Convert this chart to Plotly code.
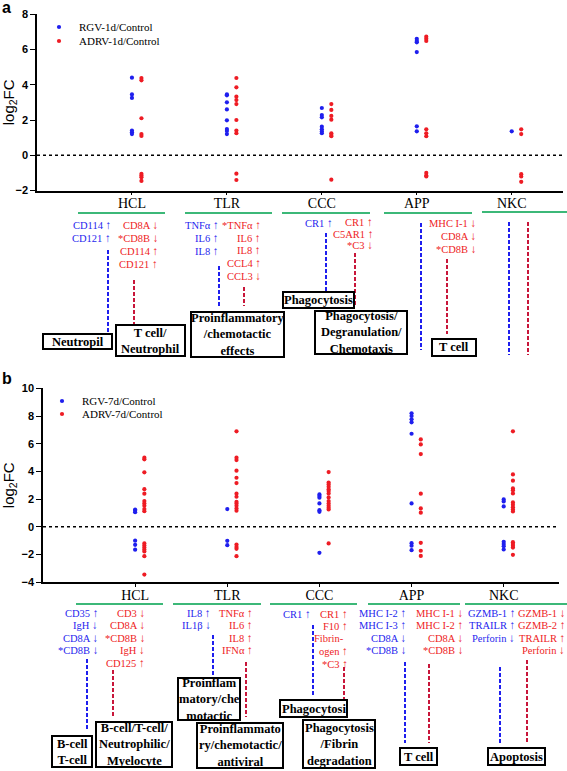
import plotly.graph_objects as go

W, H = 567, 771

categories = ["HCL", "TLR", "CCC", "APP", "NKC"]

# Panel a values (log2FC), one list per category
a_rgv = [[4.4, 3.45, 3.25, 1.4, 1.3, 1.2],
         [3.45, 3.4, 3.0, 2.6, 1.98, 1.49, 1.38, 1.2],
         [2.68, 2.28, 2.15, 1.62, 1.47, 1.35, 1.25],
         [6.6, 6.48, 6.4, 5.85, 1.64, 1.36],
         [1.36]]
a_adrv = [[4.38, 4.25, 2.1, 1.2, 1.1, -1.05, -1.15, -1.25, -1.45],
          [4.38, 3.85, 3.32, 3.13, 2.9, 2.0, 1.4, 1.25, -1.04, -1.4],
          [2.9, 2.57, 2.23, 2.02, 1.25, 1.15, 1.08, -1.38],
          [6.72, 6.6, 6.48, 1.47, 1.25, 1.08, -1.0, -1.15, -1.2],
          [1.47, 1.2, -1.07, -1.2, -1.5]]
# Panel b values
b_rgv = [[1.25, 1.15, 1.05, -1.0, -1.3, -1.65],
         [1.28, -1.01, -1.33],
         [2.34, 2.22, 2.1, 1.69, 1.2, 1.08, -1.88],
         [8.19, 8.0, 7.76, 7.54, 6.72, 1.69, -1.18, -1.37, -1.69],
         [1.98, 1.83, 1.47, -1.08, -1.25, -1.4, -1.64]]
b_adrv = [[4.99, 4.87, 3.93, 2.72, 2.39, 1.86, 1.69, 1.52, 1.28, 1.13, -1.2, -1.35, -1.5, -1.64, -1.78, -2.12, -3.45],
          [6.89, 4.99, 4.82, 4.05, 3.54, 3.16, 2.39, 2.17, 1.81, 1.69, 1.52, 1.33, 1.16, -1.28, -1.45, -1.59, -2.12],
          [3.95, 3.2, 3.06, 2.89, 2.72, 2.58, 2.41, 2.12, 1.86, 1.69, 1.52, 1.37, 1.25, -1.2],
          [6.31, 5.95, 5.25, 2.39, 1.33, 1.02, -1.16, -1.73, -2.1],
          [6.89, 3.78, 3.33, 2.77, 2.63, 2.41, 1.76, 1.59, 1.42, 1.25, 1.11, -1.11, -1.25, -1.37, -1.5, -2.02]]

series_a = ["RGV-1d/Control", "ADRV-1d/Control"]
series_b = ["RGV-7d/Control", "ADRV-7d/Control"]

UP = " <span style='font-size:11.5px'><b>↑</b></span>"
DN = " <span style='font-size:11.5px'><b>↓</b></span>"
# gene annotations: (category, series 0=RGV/1=ADRV, lines)
genes_a = [
    ("HCL", 0, ["CD114" + UP, "CD121" + UP]),
    ("HCL", 1, ["CD8A" + DN, "*CD8B" + DN, "CD114" + UP, "CD121" + UP]),
    ("TLR", 0, ["TNFα" + UP, "IL6" + UP, "IL8" + UP]),
    ("TLR", 1, ["*TNFα" + UP, "IL6" + UP, "IL8" + UP, "CCL4" + UP, "CCL3" + DN]),
    ("CCC", 0, ["CR1" + UP]),
    ("CCC", 1, ["CR1" + UP, "C5AR1" + UP, "*C3" + DN]),
    ("APP", 1, ["MHC I-1" + DN, "CD8A" + DN, "*CD8B" + DN]),
]
genes_b = [
    ("HCL", 0, ["CD35" + UP, "IgH" + DN, "CD8A" + DN, "*CD8B" + DN]),
    ("HCL", 1, ["CD3" + DN, "CD8A" + DN, "*CD8B" + DN, "IgH" + DN, "CD125" + UP]),
    ("TLR", 0, ["IL8" + UP, "IL1β" + DN]),
    ("TLR", 1, ["TNFα" + UP, "IL6" + UP, "IL8" + UP, "IFNα" + UP]),
    ("CCC", 0, ["CR1" + UP]),
    ("CCC", 1, ["CR1" + UP, "F10" + UP, "Fibrin-  ", "ogen" + UP, "*C3" + UP]),
    ("APP", 0, ["MHC I-2" + UP, "MHC I-3" + UP, "CD8A" + DN, "*CD8B" + DN]),
    ("APP", 1, ["MHC I-1" + DN, "MHC I-2" + UP, "CD8A" + DN, "*CD8B" + DN]),
    ("NKC", 0, ["GZMB-1" + UP, "TRAILR" + UP, "Perforin" + DN]),
    ("NKC", 1, ["GZMB-1" + DN, "GZMB-2" + UP, "TRAILR" + UP, "Perforin" + DN]),
]

BLUE = "#1f1fee"
RED = "#ee1c24"
DRED = "#c8163a"
GREEN = "#3cb878"
SERIF = "Liberation Serif, Times New Roman, serif"
SANS = "Arial, Liberation Sans, sans-serif"


def PX(x):
    return x / W


def PY(y):
    return 1 - y / H


fig = go.Figure()
OFF = [0.0, 0.1]
panels = [(a_rgv, a_adrv, series_a, "x", "y", ["legend", "legend2"]),
          (b_rgv, b_adrv, series_b, "x2", "y2", ["legend3", "legend4"])]
for rgv, adrv, names, xa, ya, legs in panels:
    for s, (vals_list, col) in enumerate([(rgv, BLUE), (adrv, RED)]):
        xs, ys = [], []
        for i, vals in enumerate(vals_list):
            xs += [i + 1 + OFF[s]] * len(vals)
            ys += vals
        fig.add_trace(go.Scatter(x=xs, y=ys, mode="markers", name=names[s], xaxis=xa, yaxis=ya,
                                 marker=dict(color=col, size=4.2), legend=legs[s], showlegend=True))

axis_common = dict(showline=True, linecolor="black", linewidth=1.5, ticks="outside",
                   tickcolor="black", showgrid=False, zeroline=False)
leg_common = dict(xanchor="left", yanchor="middle", bgcolor="rgba(0,0,0,0)",
                  font=dict(family=SERIF, size=11, color="black"), itemwidth=30)
ytitle = dict(text="log<sub>2</sub>FC", font=dict(family=SANS, size=15, color="black"), standoff=4)
fig.update_layout(
    width=W, height=H, margin=dict(l=0, r=0, t=0, b=0, autoexpand=False),
    paper_bgcolor="white", plot_bgcolor="white", showlegend=True,
    xaxis=dict(domain=[PX(37), PX(563)], range=[0, 5.54], tickvals=[1, 2, 3, 4, 5], ticklen=3,
               ticktext=categories, tickfont=dict(family=SERIF, size=14, color="black"),
               ticklabelstandoff=-4, anchor="y", **axis_common),
    yaxis=dict(domain=[PY(190.6), PY(14.1)], range=[-2, 8], dtick=2, ticklen=5,
               tickfont=dict(family=SANS, size=11, color="black", weight="bold"),
               title=ytitle, anchor="x", **axis_common),
    xaxis2=dict(domain=[PX(43), PX(559)], range=[0, 5.6], tickvals=[1, 2, 3, 4, 5], ticklen=3,
                ticktext=categories, tickfont=dict(family=SERIF, size=14, color="black"),
                ticklabelstandoff=-4, anchor="y2", **axis_common),
    yaxis2=dict(domain=[PY(582.2), PY(388.3)], range=[-4, 10], dtick=2, ticklen=5,
                tickfont=dict(family=SANS, size=11, color="black", weight="bold"),
                title=ytitle, anchor="x2", **axis_common),
    legend=dict(x=PX(39), y=PY(27), **leg_common),
    legend2=dict(x=PX(39), y=PY(41), **leg_common),
    legend3=dict(x=PX(42), y=PY(401), **leg_common),
    legend4=dict(x=PX(42), y=PY(414), **leg_common),
)

shapes = []
annotations = []

# dotted zero lines
for xa, ya in [("x", "y"), ("x2", "y2")]:
    shapes.append(dict(type="line", xref=xa + " domain", yref=ya, x0=0, x1=1, y0=0, y1=0,
                       line=dict(color="black", width=1.5, dash="dot")))

# green category underlines (pixel x0, x1, y)
greens = [(78, 165, 213), (185, 272, 213), (282, 370, 213), (384, 472, 213), (482, 567, 212),
          (76, 163, 604), (173, 261, 604), (270, 357, 604), (368, 460, 604), (465, 567, 604)]
for x0, x1, y in greens:
    shapes.append(dict(type="line", xref="paper", yref="paper", x0=PX(x0), x1=PX(x1),
                       y0=PY(y), y1=PY(y), line=dict(color=GREEN, width=2)))

# dashed connectors (x, y0, y1, series)
dashes = [(108, 250, 333, 0), (134, 280, 325, 1), (219, 266, 307, 0), (244, 287, 306, 1),
          (326, 233, 292, 0), (355, 253, 307, 1), (421, 223, 350, 0), (447, 259, 334, 1),
          (509, 222, 355, 0), (528, 222, 355, 1),
          (87, 659, 730, 0), (113, 670, 718, 1), (213, 635, 680, 0), (246, 662, 717, 1),
          (313, 625, 696, 0), (344, 667, 715, 1), (405, 662, 743, 0), (429, 664, 743, 1),
          (500, 667, 743, 0), (527, 660, 743, 1)]
for x, y0, y1, s in dashes:
    shapes.append(dict(type="line", xref="paper", yref="paper", x0=PX(x), x1=PX(x),
                       y0=PY(y0), y1=PY(y1),
                       line=dict(color=BLUE if s == 0 else DRED, width=2, dash="4px,2px")))

# boxes (x0, y0, x1, y1, text)
boxes = [(43, 334, 112, 349, "Neutropil"),
         (116, 325, 185, 356, "T cell/<br>Neutrophil"),
         (191, 312, 284, 357, "Proinflammatory<br>/chemotactic<br>effects"),
         (283, 292, 354, 308, "Phagocytosis"),
         (315, 311, 407, 354, "Phagocytosis/<br>Degranulation/<br>Chemotaxis"),
         (432, 339, 476, 356, "T cell"),
         (52, 736, 92, 767, "B-cell<br>T-cell"),
         (96, 722, 172, 767, "B-cell/T-cell/<br>Neutrophilic/<br>Myelocyte"),
         (178, 678, 240, 720, "Proinflam<br>matory/che<br>motactic"),
         (197, 723, 283, 768, "Proinflammato<br>ry/chemotactic/<br>antiviral"),
         (280, 700, 347, 717, "Phagocytosi"),
         (303, 720, 375, 768, "Phagocytosis<br>/Fibrin<br>degradation"),
         (400, 748, 437, 765, "T cell"),
         (488, 748, 545, 765, "Apoptosis")]
for x0, y0, x1, y1, t in boxes:
    shapes.append(dict(type="rect", xref="paper", yref="paper", x0=PX(x0), x1=PX(x1),
                       y0=PY(y1), y1=PY(y0), line=dict(color="black", width=2), fillcolor="white"))
    annotations.append(dict(xref="paper", yref="paper", x=PX((x0 + x1) / 2), y=PY((y0 + y1) / 2),
                            text="<b>" + t + "</b>", showarrow=False, xanchor="center", yanchor="middle",
                            font=dict(family=SERIF, size=12.5, color="black")))

# gene text placement: right edge x, first line y, line spacing
pos_a = {("HCL", 0): (113, 225, 13), ("HCL", 1): (160, 225, 13), ("TLR", 0): (221, 225, 13),
         ("TLR", 1): (263, 225, 12.7), ("CCC", 0): (335, 223, 12), ("CCC", 1): (375, 222, 11.7),
         ("APP", 1): (478, 223, 13)}
pos_b = {("HCL", 0): (100, 613, 12.4), ("HCL", 1): (147, 613, 12.4), ("TLR", 0): (213, 613, 12.4),
         ("TLR", 1): (255, 613, 12.4), ("CCC", 0): (313, 614, 12.4), ("CCC", 1): (350, 614, 12.4),
         ("APP", 0): (408, 613, 12.4), ("APP", 1): (465, 613, 12.4), ("NKC", 0): (517, 613, 12.4),
         ("NKC", 1): (567, 613, 12.4)}
for genes, pos in [(genes_a, pos_a), (genes_b, pos_b)]:
    for cat, s, lines in genes:
        xr, y0, dy = pos[(cat, s)]
        for k, line in enumerate(lines):
            annotations.append(dict(xref="paper", yref="paper", x=PX(xr), y=PY(y0 + k * dy),
                                    text=line, showarrow=False, xanchor="right", yanchor="middle",
                                    font=dict(family=SERIF, size=10.5, color=BLUE if s == 0 else RED)))

# panel letters
annotations.append(dict(xref="paper", yref="paper", x=PX(0), y=PY(8), text="<b>a</b>", showarrow=False,
                        xanchor="left", yanchor="middle", font=dict(family=SANS, size=16, color="black")))
annotations.append(dict(xref="paper", yref="paper", x=PX(0), y=PY(378), text="<b>b</b>", showarrow=False,
                        xanchor="left", yanchor="middle", font=dict(family=SANS, size=16, color="black")))

fig.update_layout(shapes=shapes, annotations=annotations)
fig.write_html("out.html", config={"displayModeBar": False},
               post_script="document.body.style.margin='0';document.body.style.overflow='hidden';")
